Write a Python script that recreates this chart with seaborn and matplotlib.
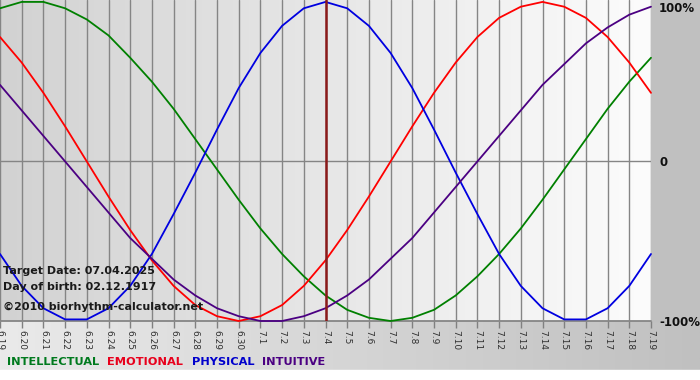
import numpy as np
import pandas as pd
import matplotlib
matplotlib.use("Agg")
import matplotlib.pyplot as plt
from matplotlib.colors import LinearSegmentedColormap
import seaborn as sns

# ---- data ----
dates = ["6.19", "6.20", "6.21", "6.22", "6.23", "6.24", "6.25", "6.26", "6.27", "6.28",
         "6.29", "6.30", "7.1", "7.2", "7.3", "7.4", "7.5", "7.6", "7.7", "7.8",
         "7.9", "7.10", "7.11", "7.12", "7.13", "7.14", "7.15", "7.16", "7.17", "7.18", "7.19"]

intellectual = [0.96, 1.00, 1.00, 0.96, 0.89, 0.79, 0.65, 0.50, 0.33, 0.14,
                -0.05, -0.24, -0.42, -0.58, -0.72, -0.84, -0.93, -0.98, -1.00, -0.98,
                -0.93, -0.84, -0.72, -0.58, -0.42, -0.24, -0.05, 0.14, 0.33, 0.50, 0.65]
emotional = [0.78, 0.62, 0.43, 0.22, 0.00, -0.22, -0.43, -0.62, -0.78, -0.90,
             -0.97, -1.00, -0.97, -0.90, -0.78, -0.62, -0.43, -0.22, 0.00, 0.22,
             0.43, 0.62, 0.78, 0.90, 0.97, 1.00, 0.97, 0.90, 0.78, 0.62, 0.43]
physical = [-0.58, -0.78, -0.92, -0.99, -0.99, -0.92, -0.78, -0.58, -0.33, -0.07,
            0.20, 0.46, 0.68, 0.85, 0.96, 1.00, 0.96, 0.85, 0.68, 0.46,
            0.20, -0.07, -0.33, -0.58, -0.78, -0.92, -0.99, -0.99, -0.92, -0.78, -0.58]
intuitive = [0.48, 0.32, 0.16, 0.00, -0.16, -0.32, -0.48, -0.61, -0.74, -0.84,
             -0.92, -0.97, -1.00, -1.00, -0.97, -0.92, -0.84, -0.74, -0.61, -0.48,
             -0.32, -0.16, 0.00, 0.16, 0.32, 0.48, 0.61, 0.74, 0.84, 0.92, 0.97]

series_names = ["INTELLECTUAL", "EMOTIONAL", "PHYSICAL", "INTUITIVE"]
series_colors = ["#008000", "#ff0000", "#0000e0", "#4b0082"]
legend_colors = ["#007a1e", "#e8001c", "#0000cc", "#4b0082"]
target_label = "7.4"
y_labels = ["100%", "0", "-100%"]
info_lines = ["Target Date: 07.04.2025", "Day of birth: 02.12.1917", "\u00a92010 biorhythm-calculator.net"]

# ---- build table ----
n = len(dates)
df = pd.DataFrame({
    "day": np.tile(np.arange(n), 4),
    "value": intellectual + emotional + physical + intuitive,
    "series": np.repeat(series_names, n),
})

sns.set_theme(style="white")
plt.rcParams["font.family"] = ["DejaVu Sans"]

W, H = 700, 380
fig = plt.figure(figsize=(W / 100, H / 100), dpi=100)
fig.patch.set_facecolor("white")

# background layer in pixel coordinates
bg = fig.add_axes([0, 0, 1, 1], zorder=-10)
bg.set_xlim(0, W)
bg.set_ylim(H, 0)
bg.axis("off")
grad_bottom = LinearSegmentedColormap.from_list("gb", ["#eaeaea", "#c0c0c0"])
bg.imshow(np.linspace(0, 1, 256)[None, :], cmap=grad_bottom, aspect="auto",
          extent=[0, W, 370, 0], zorder=0)
bg.add_patch(plt.Rectangle((651, 0), W - 651, 321, color="#c0c0c0", zorder=1))
bg.add_patch(plt.Rectangle((0, 370), W, 10, color="white", zorder=1))

# main plot axes
ax = fig.add_axes([0, 1 - 321 / H, 651 / W, 321 / H])
ax.set_xlim(0, n - 1)
ax.set_ylim(-1.0, 1.012)
grad_plot = LinearSegmentedColormap.from_list("gp", ["#d2d2d2", "#fcfcfc"])
ax.imshow(np.linspace(0, 1, 256)[None, :], cmap=grad_plot, aspect="auto",
          extent=[0, n - 1, -1.0, 1.012], zorder=0)

for s in ax.spines.values():
    s.set_visible(False)

ax.set_xticks(range(n))
ax.set_xticklabels(dates, rotation=270, fontsize=6.5, color="#303030")
ax.tick_params(axis="x", length=5, width=1.0, color="#808080", pad=1.5, bottom=True)
ax.tick_params(axis="y", left=False, labelleft=False)
ax.grid(axis="x", color="#858585", lw=1.0, zorder=1)
ax.grid(axis="y", visible=False)
ax.axhline(0, color="#858585", lw=1.0, zorder=1)
ax.axhline(-1, color="#858585", lw=1.3, zorder=1, clip_on=False)

sns.lineplot(data=df, x="day", y="value", hue="series", hue_order=series_names,
             palette=dict(zip(series_names, series_colors)), linewidth=1.3,
             legend=False, ax=ax, zorder=3)
for line in ax.lines[-4:]:
    line.set_clip_on(False)
    line.set_solid_joinstyle("round")

ax.axvline(dates.index(target_label), color="#8b1a1a", lw=1.8, zorder=5)
ax.set_xlabel("")
ax.set_ylabel("")

# right-hand percentage labels
label_px = {"100%": 8, "0": 162, "-100%": 322}
for lab in y_labels:
    ypx = label_px[lab]
    fig.text(659 / W, 1 - ypx / H, lab, fontsize=8.5, fontweight="bold",
             color="#101010", va="center", ha="left")

# info text
for txt, ypx in zip(info_lines, [271, 287, 307]):
    fig.text(3 / W, 1 - ypx / H, txt, fontsize=8.0, fontweight="bold",
             color="#1a1a1a", va="center", ha="left", zorder=10)

# legend as colored words
for name, col, xpx in zip(series_names, legend_colors, [7, 107, 192, 262]):
    fig.text(xpx / W, 1 - 362 / H, name, fontsize=8.2, fontweight="bold",
             color=col, va="center", ha="left")

fig.savefig("out.png", dpi=100)
